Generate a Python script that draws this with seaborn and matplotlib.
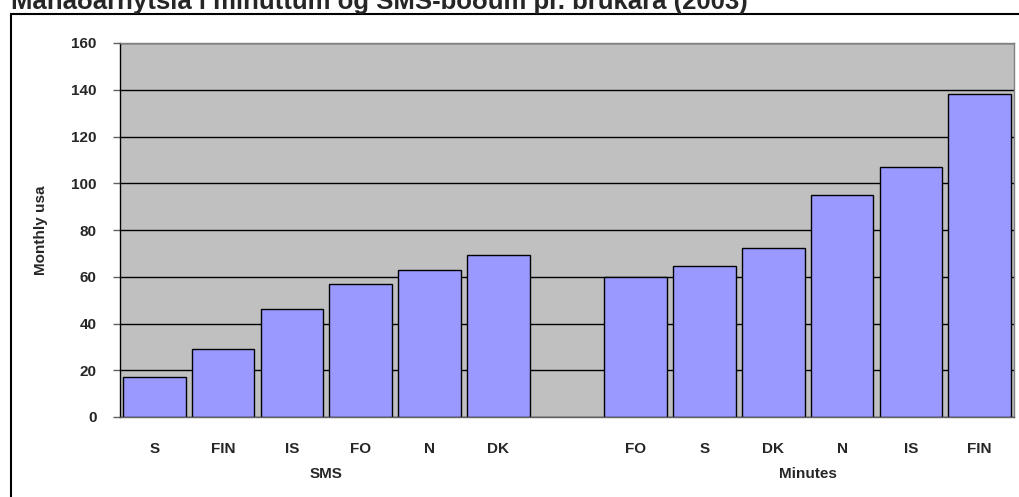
import matplotlib
matplotlib.use("Agg")
import matplotlib.pyplot as plt
import seaborn as sns
import pandas as pd
from matplotlib.lines import Line2D
import matplotlib.transforms as mtransforms

# ---- data ----
title = "Mánaðarnýtsla í minuttum og SMS-boðum pr. brúkara (2003)"
ylabel = "Monthly usa"
sms_countries = ["S", "FIN", "IS", "FO", "N", "DK"]
sms_values = [17, 29, 46, 57, 63, 69.5]
min_countries = ["FO", "S", "DK", "N", "IS", "FIN"]
min_values = [60, 64.5, 72.5, 95, 107, 138]
group_names = ["SMS", "Minutes"]
yticks = [0, 20, 40, 60, 80, 100, 120, 140, 160]

sns.set_theme(style="white")
plt.rcParams["font.family"] = ["Liberation Sans", "DejaVu Sans"]

keys_sms = [f"SMS-{c}" for c in sms_countries]
keys_min = [f"MIN-{c}" for c in min_countries]
df = pd.DataFrame({
    "key": keys_sms + keys_min,
    "value": sms_values + min_values,
})
order = keys_sms + ["gap"] + keys_min
labels = sms_countries + [""] + min_countries

fig = plt.figure(figsize=(10.2, 4.97), dpi=100)
ax = fig.add_axes([120/1020, 1-417/497, (1014-120)/1020, (417-43)/497])
ax.set_facecolor("#C0C0C0")

sns.barplot(data=df, x="key", y="value", order=order, color="#9999FF",
            saturation=1, edgecolor="black", linewidth=1, width=0.91, ax=ax)

ax.set_ylim(0, 160)
ax.set_xlim(-0.5, len(order) - 0.5)
ax.set_yticks(yticks)
ax.set_yticklabels([str(v) for v in yticks], fontsize=11, fontweight="bold")
ax.set_xticks(range(len(order)))
ax.set_xticklabels(labels, fontsize=11, fontweight="bold")
ax.tick_params(axis="x", length=0, pad=18)
ax.tick_params(axis="y", length=5, width=1, color="#606060", pad=12, left=True)
ax.yaxis.grid(True, color="black", linewidth=1)
ax.set_axisbelow(True)
ax.set_xlabel("")
ax.set_ylabel(ylabel, fontsize=11, fontweight="bold")
ax.yaxis.set_label_coords((48-120)/894, 0.5)

for side in ["top", "right"]:
    ax.spines[side].set_color("#808080")
ax.spines["left"].set_color("black")
ax.spines["bottom"].set_color("#606060")
for s in ax.spines.values():
    s.set_linewidth(1)

trans = mtransforms.blended_transform_factory(ax.transData, ax.transAxes)
ax.text((0 + 5) / 2, (417-474)/374, group_names[0], transform=trans,
        ha="center", va="center", fontsize=11, fontweight="bold")
ax.text((7 + 12) / 2, (417-474)/374, group_names[1], transform=trans,
        ha="center", va="center", fontsize=11, fontweight="bold")

# outer chart frame (left and top edges visible)
fl = 11/1020
ft = 1 - 14/497
fig.add_artist(Line2D([fl, fl], [0, ft], color="black", linewidth=1.5, transform=fig.transFigure))
fig.add_artist(Line2D([fl, 1], [ft, ft], color="black", linewidth=1.5, transform=fig.transFigure))

fig.text(fl, 1 - 9/497, title, ha="left", va="baseline", fontsize=18.5, fontweight="bold")

fig.savefig("out.png", dpi=100)
